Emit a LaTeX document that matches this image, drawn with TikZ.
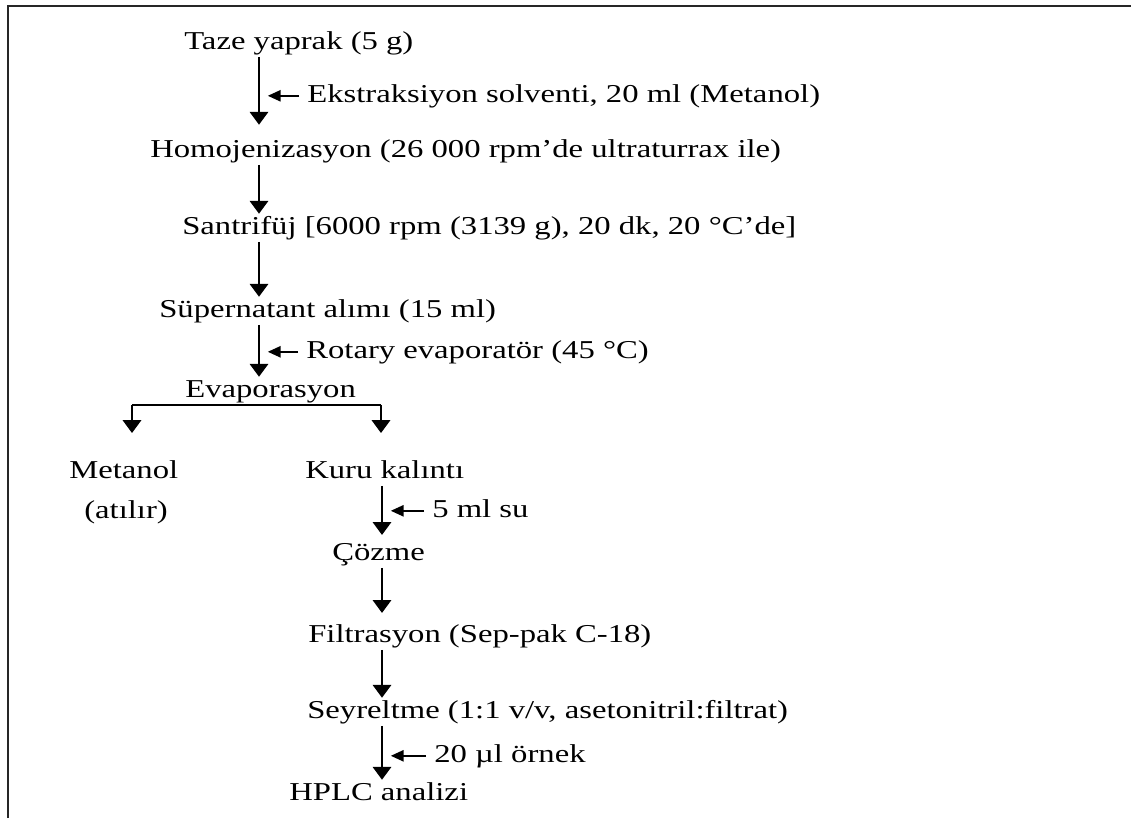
\documentclass[tikz,border=0pt]{standalone}
\usepackage{fontspec}
\setmainfont{Liberation Serif}[FakeStretch=1.27]
\usetikzlibrary{arrows.meta}

\begin{document}
\begin{tikzpicture}[
  x=0.025cm, y=-0.025cm,
  lbl/.style={anchor=base west, inner sep=0.05cm, text height=0.45cm, text depth=0.14cm, font=\fontsize{18.3}{22}\selectfont},
  arr/.style={-{Triangle[length=0.32cm, width=0.46cm]}, line width=1.3pt},
  side/.style={-{Triangle[length=0.32cm, width=0.28cm]}, line width=1.3pt, shorten <=0.15cm, shorten >=0.22cm},
  frame/.style={line width=0.05cm, black!85}
]
\useasboundingbox (0,0) rectangle (1131,818);
\draw[frame] (8,818) -- (8,6) -- (1131,6);

\coordinate (stema) at (259,0);
\coordinate (stemb) at (382,0);
\coordinate (bl) at (132,433);
\coordinate (br) at (381,433);

\node[lbl] (taze) at (182,49) {Taze yaprak (5 g)};
\node[lbl] (ekst) at (305,102) {Ekstraksiyon solventi, 20 ml (Metanol)};
\node[lbl] (homo) at (148,157) {Homojenizasyon (26 000 rpm’de ultraturrax ile)};
\node[lbl] (sant) at (180,234) {Santrifüj [6000 rpm (3139 g), 20 dk, 20 °C’de]};
\node[lbl] (super) at (157,317) {Süpernatant alımı (15 ml)};
\node[lbl] (rotary) at (304,358) {Rotary evaporatör (45 °C)};
\node[lbl] (evap) at (183,397) {Evaporasyon};
\node[lbl] (metanol) at (67,478) {Metanol};
\node[lbl] (atilir) at (82,518) {(atılır)};
\node[lbl] (kuru) at (303,478) {Kuru kalıntı};
\node[lbl] (su) at (430,517) {5 ml su};
\node[lbl] (cozme) at (330,560) {Çözme};
\node[lbl] (filt) at (306,642) {Filtrasyon (Sep-pak C-18)};
\node[lbl] (seyr) at (305,718) {Seyreltme (1:1 v/v, asetonitril:filtrat)};
\node[lbl] (ornek) at (432,762) {20 µl örnek};
\node[lbl] (hplc) at (287,800) {HPLC analizi};

\draw[arr, shorten >=0.3cm] (taze.south -| stema) -- (homo.north -| stema);
\draw[arr] (homo.south -| stema) -- (sant.north -| stema);
\draw[arr] (sant.south -| stema) -- (super.north -| stema);
\draw[arr] (super.south -| stema) -- (evap.north -| stema);
\draw[side] (ekst.west) -- (ekst.west -| stema);
\draw[side] (rotary.west) -- (rotary.west -| stema);
\draw[line width=1.3pt] (bl |- evap.south) -- (br |- evap.south);
\draw[arr] (bl |- evap.south) -- (bl);
\draw[arr] (br |- evap.south) -- (br);
\draw[arr, shorten >=0.12cm] (kuru.south -| stemb) -- (cozme.north -| stemb);
\draw[arr, shorten >=0.22cm] (cozme.south -| stemb) -- (filt.north -| stemb);
\draw[arr] (filt.south -| stemb) -- (seyr.north -| stemb);
\draw[arr] (seyr.south -| stemb) -- (hplc.north -| stemb);
\draw[side] (su.west) -- (su.west -| stemb);
\draw[side] (ornek.west) -- (ornek.west -| stemb);
\end{tikzpicture}
\end{document}
